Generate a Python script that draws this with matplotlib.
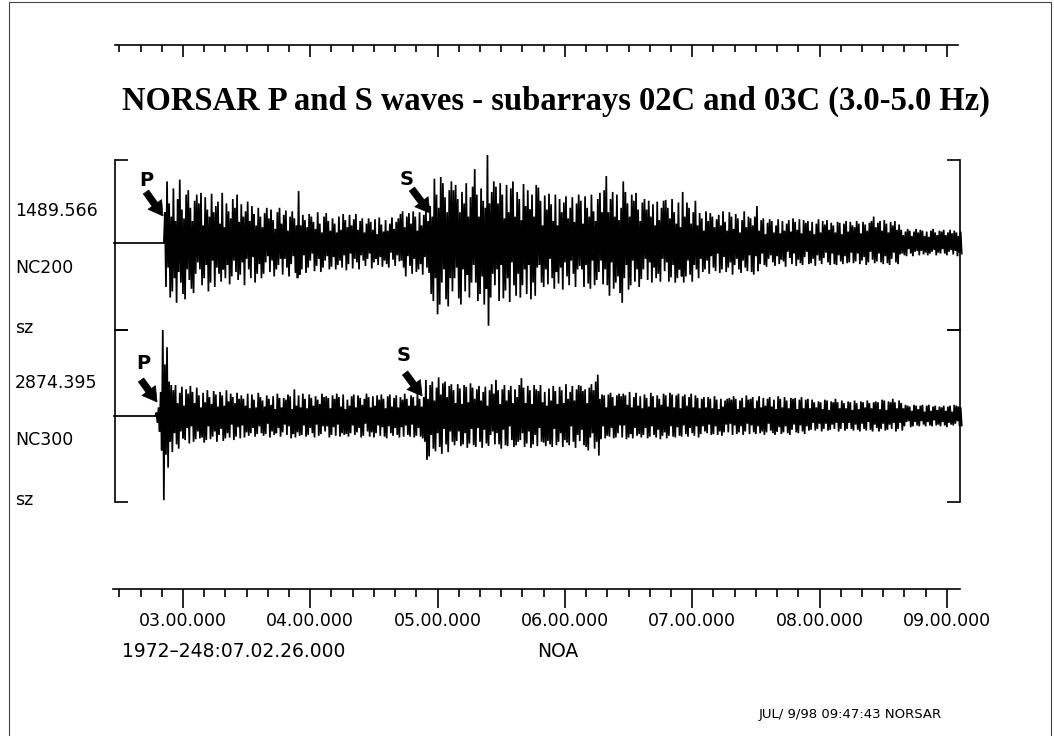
import matplotlib
matplotlib.use("Agg")
import matplotlib.pyplot as plt
import numpy as np
from matplotlib.patches import Rectangle
from matplotlib.ticker import FixedLocator, NullFormatter, FixedFormatter

# ---------------------------------------------------------------- data
TITLE = "NORSAR P and S waves - subarrays 02C and 03C (3.0-5.0 Hz)"
START_LABEL = "1972–248:07.02.26.000"
STATION = "NOA"
FOOTER = "JUL/ 9/98 09:47:43 NORSAR"

# time axis: seconds after 07.02.26.000
TICK_SECONDS = [34, 94, 154, 214, 274, 334, 394]
TICK_LABELS = ["03.00.000", "04.00.000", "05.00.000", "06.00.000",
               "07.00.000", "08.00.000", "09.00.000"]
MINOR_SECONDS = [4, 14, 24, 44, 54, 64, 74, 84, 104, 114, 124, 134, 144,
                 164, 174, 184, 194, 204, 224, 234, 244, 254, 264, 284, 294,
                 304, 314, 324, 344, 354, 364, 374, 384]

CHANNELS = ["NC200", "NC300"]
COMPONENTS = ["sz", "sz"]
MAX_AMPS = ["1489.566", "2874.395"]

P_PICKS = [24.6, 21.8]     # s after start
S_PICKS = [150.4, 146.7]

SAMPLE_START = 1.5   # s
SAMPLE_STEP = 0.5    # s

# trace amplitudes, percent of channel maximum
NC200 = [
    0, 0, 0, 0, 0, 0, 0, 0, 0, 0, 0, 0, 0, 0, 0, 0, 0, 0, 0, 0,
    0, 0, 0, 0, 0, 0, 0, 0, 0, 0, 0, 0, 0, 0, 0, 0, 0, 0, 0, 0,
    0, 0, 0, 0, 0, 0, 0, 0,
    35, -50, 70, -28, 45, -62, 30, -55, 62, -40, 25, -68, 50, -33, 72, -45,
    38, -58, 28, -64, 55, -30, 60, -42, 40, -52, 25, -57, 48, -35, 55, -22,
    45, -30, 57, -48, 20, -40, 52, -25, 38, -55, 30, -45, 56, -20, 35, -50,
    42, -28, 47, -35, 22, -44, 57, -30, 18, -40, 45, -25, 36, -47, 28, -38, 50, -20, 40, -33, 55, -42, 24, -36,
    44, -22, 30, -48, 36, -18, 47, -30, 25, -40, 42, -16, 33, -45, 20, -35, 40, -24,
    30, -40, 18, -35, 34, -22, 40, -15, 28, -33, 38, -20, 26, -38, 16, -30, 35, -25, 40, -18, 22, -36,
    32, -18, 37, -28, 14, -38, 30, -24, 36, -15, 28, -34, 20, -40, 59, -36,
    20, -30, 32, -14, 26, -34, 18, -28, 33, -20, 30, -12, 24, -32, 16, -26, 35, -18, 22, -33, 12, -28, 30, -20,
    34, -15, 25, -30, 14, -27, 28, -16, 22, -30, 12, -25, 30, -20, 15, -28, 33, -14, 26, -31,
    18, -24, 32, -12, 20, -29, 27, -18, 33, -22, 15, -30, 25, -14, 28, -20, 12, -26, 22, -18,
    28, -12, 24, -29, 15, -22, 27, -18, 10, -25, 29, -16, 21, -27, 13, -20, 26, -24, 14, -28,
    22, -11, 29, -19, 16, -26, 24, -14, 28, -21, 33, -20, 36, -28, 18, -38, 30, -15, 34, -26,
    22, -35, 36, -18, 30, -33, 14, -30, 35, -24, 20, -36, 32, -16, 38, -28, 25, -34,
    42, -58, 30, -66, 73, -40, 55, -81, 40, -70, 75, -45, 68, -30, 52, -64, 35, -72, 60, -40, 70, -55,
    60, -40, 66, -28, 50, -63, 35, -70, 58, -30, 45, -55, 68, -36, 30, -62, 52, -45, 64, -25,
    84, -45, 55, -66, 30, -58, 62, -38, 48, -70, 40, -52, 100, -94, 45, -62, 58, -35, 70, -48,
    64, -30, 45, -66, 68, -25, 55, -63, 28, -54, 66, -40, 35, -67, 62, -22, 70, -48, 30, -60,
    58, -35, 50, -62, 26, -48, 67, -30, 42, -58, 60, -25, 38, -64, 55, -45, 30, -60, 66, -28,
    63, -25, 48, -45, 20, -50, 54, -30, 38, -47, 56, -18, 44, -40, 25, -52, 55, -33, 20, -46,
    50, -28, 35, -53, 46, -22, 53, -38, 28, -48, 40, -20, 52, -35, 24, -50, 45, -30, 55, -26,
    48, -30, 22, -50, 53, -25, 40, -46, 30, -52, 55, -20, 36, -48, 25, -42, 50, -33,
    57, -20, 35, -47, 60, -30, 76, -48, 35, -60, 50, -22, 58, -52, 30, -45, 55, -38, 26, -57, 40, -68,
    70, -40, 58, -25, 45, -53, 30, -48, 55, -20, 48, -44, 57, -30, 38, -50,
    25, -41, 46, -30, 50, -18, 38, -42, 48, -22, 30, -45, 44, -28, 20, -40, 47, -35, 26, -44, 40, -18, 48, -32,
    49, -22, 40, -44, 28, -39, 50, -25, 35, -45, 22, -40, 46, -30, 18, -38,
    58, -45, 30, -38, 46, -20, 40, -36, 22, -44, 35, -25, 48, -30, 20, -40,
    34, -18, 28, -33, 14, -30, 36, -20,
    25, -35, 34, -15, 30, -28, 18, -32, 27, -12, 32, -34, 20, -30, 36, -16, 24, -33, 14, -28,
    35, -22, 30, -36, 16, -25, 33, -18, 28, -30, 12, -34, 26, -20, 36, -28, 18, -32, 30, -14,
    28, -33, 20, -36, 30, -15, 42, -32, 14, -24,
    26, -12, 28, -25, 10, -27, 23, -18, 27, -14, 25, -22, 12, -26, 20, -15, 27, -24, 11, -19,
    25, -21, 14, -27, 22, -10, 26, -17, 13, -24,
    28, -12, 24, -26, 15, -19, 27, -23, 11, -25, 26, -16, 23, -10, 25, -24, 14, -23, 24, -18,
    10, -26, 22, -14, 27, -20, 12, -24, 25, -17, 21, -11, 26, -22, 15, -25, 23, -12, 20, -24,
    12, -25, 24, -14, 23, -21, 10, -24, 22, -15, 25, -23, 13, -22, 24, -11, 20, -23, 18, -21,
    25, -12, 22, -24, 11, -20, 24, -16, 21, -25, 14, -22, 23, -10, 25, -19, 30, -23, 18, -21,
    23, -12, 25, -22, 14, -24, 26, -15, 22, -23, 12, -25, 24, -18, 20, -11, 25, -22, 15, -24, 21,
    -13, 15, -12, 9, -14, 13, -15, 16, -7, 14, -12, 8, -15, 13, -10, 16, -9, 12, -14,
    15, -9, 14, -13, 8, -11, 13, -14, 7, -12, 14, -10, 16, -8, 12, -14, 9, -11, 14, -12,
    13, -7, 15, -12, 9, -14, 12, -10, 15, -8, 11, -13, 14, -9, 12, -15, 8, -11, 13, -12,
]

NC300 = [
    0, 0, 0, 0, 0, 0, 0, 0, 0, 0, 0, 0, 0, 0, 0, 0, 0, 0, 0, 0,
    0, 0, 0, 0, 0, 0, 0, 0, 0, 0, 0, 0, 0, 0, 0, 0, 0, 0, 0, 0,
    4, -8, 10, -18, 28, -40, 100, -98, 60, -45, 80, -60, 40, -30, 36, -42,
    30, -20, 36, -33, 15, -38, 27, -18, 34, -26, 12, -28, 31, -14, 26, -32, 35, -12, 28, -30, 15, -27, 33, -18,
    24, -26, 10, -25, 27, -31, 16, -28, 30, -12, 22, -27, 14, -24, 29, -18, 25, -30, 11, -22,
    28, -15, 24, -29, 12, -26, 30, -20, 17, -25, 26, -10, 22, -28, 15, -24, 27, -13, 20, -26,
    24, -11, 20, -25, 12, -19, 26, -23, 9, -20, 25, -14, 19, -24, 10, -21, 27, -12, 22, -20,
    18, -23, 11, -21, 24, -9, 20, -25, 13, -18, 23, -22, 8, -20, 26, -14, 21, -24, 10, -19,
    21, -10, 19, -22, 25, -12, 23, -26, 8, -21, 31, -25, 12, -19, 24, -23, 10, -22, 26, -11,
    20, -24, 9, -22, 25, -14, 21, -20, 12, -25, 23, -10, 19, -23, 14, -21, 26, -12, 22, -18,
    23, -12, 21, -25, 9, -22, 24, -13, 20, -23, 26, -10, 22, -24, 11, -20, 25, -22, 8, -21,
    19, -24, 12, -20, 23, -11, 25, -22, 10, -19, 24, -14, 21, -25, 13, -23, 20, -9, 26, -18,
    22, -24, 10, -19, 23, -25, 12, -20, 24, -11, 19, -23, 25, -13, 20, -24, 9, -26, 23, -12,
    25, -20, 11, -23, 21, -14, 24, -22, 10, -25, 22, -13, 19, -24, 26, -11, 20, -22, 12, -24,
    24, -10, 22, -25, 12, -23, 26, -14, 20, -24, 11, -26, 22,
    -30, 42, -51, 20, -47, 36, -22, 40, -38, 18, -41, 33, -20, 45, -36, 25, -44, 38, -15, 40,
    -33, 22, -42, 35, -18, 37, -30,
    30, -34, 15, -29, 37, -18, 32, -35, 14, -33, 36, -20, 34, -37, 16, -32, 38, -15, 33, -34,
    20, -36, 31, -14, 35, -30, 18, -37, 28, -16, 34, -32, 12, -35, 30, -22, 37, -18, 26, -33,
    42, -20, 30, -33, 14, -38, 31, -16, 36, -34, 18, -35, 30, -12, 35, -28, 15, -36, 31, -34,
    22, -30, 36, -28, 44, -20, 33, -36, 15, -32, 35, -18, 30, -37, 14, -33, 36, -22, 31, -35,
    29, -14, 36, -30, 16, -31, 28, -35, 12, -29, 32, -33, 18, -36, 35, -15, 29, -34, 14, -30,
    34, -20, 30, -36, 15, -28, 37, -31, 20, -34, 28, -12, 35, -30, 18, -37, 31, -22, 36, -29,
    35, -16, 29, -34, 31, -36, 15, -40, 33, -25, 37, -20, 30, -38, 40, -30,
    48, -46, 20, -27, 25, -12, 24, -26, 10, -23, 25, -24, 27, -14, 22, -26, 12, -25, 24, -20, 26, -11, 23, -25,
    26, -11, 24, -27, 13, -25, 28, -21, 10, -26, 22, -14, 27, -23, 12, -21, 23, -25, 9, -22,
    25, -14, 21, -26, 11, -24, 27, -12, 23, -22, 10, -25, 24, -16, 20, -27, 13, -23, 26, -19,
    24, -26, 11, -23, 27, -12, 25, -24, 10, -25, 24, -13, 26, -23, 9, -24, 23, -11, 25, -21,
    12, -24, 22, -14, 26, -20, 10, -23, 24, -12, 21, -25,
    9, -21, 20, -12, 22, -18, 10, -20,
    22, -10, 20, -22, 9, -21, 23, -12, 19, -22, 8, -18, 20, -23, 11, -19, 18, -10, 20, -19,
    21, -9, 19, -22, 23, -11, 20, -21, 8, -19, 18, -12, 21, -22, 10, -18, 24, -9, 19, -21,
    20, -11, 22, -19, 9, -21, 18, -12, 23, -20, 10, -18, 21, -22, 12, -19, 20, -9, 22, -17,
    11, -20, 19, -22, 8, -18, 23, -13, 20, -21, 10, -19, 22, -12, 18, -20, 9, -22, 21, -16,
    20, -10, 21, -19, 8, -20, 19, -11, 22, -18, 9, -21, 19, -12, 20, -17,
    9, -16, 19, -8, 16, -17, 10, -15, 17, -9, 16, -18, 8, -15, 19, -9, 18, -17, 7, -16, 17, -10, 16, -15,
    20, -8, 16, -18, 9, -15, 18, -8, 15, -17, 9, -15, 17, -8, 16, -15, 7, -17, 18, -10,
    15, -16, 8, -18, 17, -9, 16, -15, 10, -17, 18, -7, 15, -16, 9, -18, 16, -10, 17, -14,
    16, -18, 8, -15, 19, -9, 18, -17, 7, -16, 17, -10, 16, -15, 20, -8, 16, -18, 9, -15, 18, -8, 15, -17, 9,
    -12, 13, -7, 12, -6, 11, -13, 6, -12, 13, -7, 12, -11, 8, -12,
    12, -6, 13, -10, 5, -12, 12, -7, 13, -11, 6, -12, 11, -5, 12, -11, 7, -10, 11, -12,
    10, -7, 12, -11, 6, -13, 11, -8, 12, -10, 5, -11, 13, -9, 12, -6, 11, -12, 10, -11,
]

TRACES = [NC200, NC300]

# ---------------------------------------------------------------- layout
W, H, DPI = 1054, 736, 100
X0_PX, PX_PER_S = 110.8, 2.122      # calibration of the time scale


def t_at(px):
    return (px - X0_PX) / PX_PER_S


def fx(px):
    return px / W


def fy(py):
    return 1 - py / H


PT = 72.0 / DPI   # points per pixel

fig = plt.figure(figsize=(W / DPI, H / DPI), dpi=DPI)
fig.patch.set_facecolor("white")

LEFT, RIGHT = 115, 960
PANELS = [(160, 330, 243), (330, 502, 416)]   # top, bottom, baseline (px)
FULL_PX = [88, 86]                             # px for 100 %

label_font = dict(family="DejaVu Sans", fontsize=12.5, color="black")

# label positions (px offsets from baseline)
LABEL_DY = [(-32, 25, 85.5), (-33, 24, 84)]

# arrows: (tip amplitude %, tail offset px, letter offset px)
P_ARROWS = [(30.7, (-17, -24), (-17, -35)), (16.3, (-16, -22), (-14, -38))]
S_ARROWS = [(34.0, (-18, -24), (-23, -34)), (23.3, (-17, -23), (-18, -40))]

for k, (top, bot, base) in enumerate(PANELS):
    ax = fig.add_axes([fx(LEFT), fy(bot), fx(RIGHT) - fx(LEFT), (bot - top) / H])
    ax.set_xlim(t_at(LEFT), t_at(RIGHT))
    full = FULL_PX[k]
    ylo = -(bot - base) / full * 100
    yhi = (base - top) / full * 100
    ax.set_ylim(ylo, yhi)
    vals = np.array(TRACES[k], dtype=float)
    t = SAMPLE_START + SAMPLE_STEP * np.arange(len(vals))
    ax.plot(t, vals, color="black", lw=1.25, clip_on=False, solid_joinstyle="miter")
    for side in ("top", "bottom"):
        ax.spines[side].set_visible(False)
    for side in ("left", "right"):
        ax.spines[side].set_linewidth(1.2)
    ax.set_xticks([])
    ax.set_yticks([ylo, yhi])
    ax.tick_params(axis="y", direction="in", length=13 * PT, width=1.2,
                   left=True, right=True, labelleft=False, labelright=False)
    ax.patch.set_alpha(0)

    dv, dn, dc = LABEL_DY[k]
    fig.text(fx(15), fy(base + dv), MAX_AMPS[k], ha="left", va="center", **label_font)
    fig.text(fx(15), fy(base + dn), CHANNELS[k], ha="left", va="center", **label_font)
    fig.text(fx(15), fy(base + dc), COMPONENTS[k], ha="left", va="center", **label_font)

    for pick, (amp, tail, letter), name in ((P_PICKS[k], P_ARROWS[k], "P"),
                                           (S_PICKS[k], S_ARROWS[k], "S")):
        ax.annotate("", xy=(pick, amp), xytext=(tail[0] * PT, -tail[1] * PT),
                    textcoords="offset points", annotation_clip=False,
                    arrowprops=dict(arrowstyle="simple,head_width=1.0,head_length=0.85,tail_width=0.4",
                                    mutation_scale=12, fc="black", ec="black", lw=0.5,
                                    shrinkA=0, shrinkB=0))
        ax.annotate(name, xy=(pick, amp), xytext=(letter[0] * PT, -letter[1] * PT),
                    textcoords="offset points", ha="center", va="center",
                    family="DejaVu Sans", fontweight="bold", fontsize=14,
                    annotation_clip=False)


def ruler(y_px, x_left, x_right, major_len, minor_len, labels):
    ax = fig.add_axes([fx(x_left), fy(y_px), fx(x_right) - fx(x_left), 1e-4])
    ax.set_xlim(t_at(x_left), t_at(x_right))
    for side in ("top", "left", "right"):
        ax.spines[side].set_visible(False)
    ax.spines["bottom"].set_linewidth(1.2)
    ax.set_yticks([])
    ax.xaxis.set_major_locator(FixedLocator(TICK_SECONDS))
    ax.xaxis.set_minor_locator(FixedLocator(MINOR_SECONDS))
    if labels:
        ax.xaxis.set_major_formatter(FixedFormatter(TICK_LABELS))
    else:
        ax.xaxis.set_major_formatter(NullFormatter())
    ax.tick_params(axis="x", which="major", direction="out", length=major_len * PT,
                   width=1.2, pad=4 * PT, labelsize=12.5)
    ax.tick_params(axis="x", which="minor", direction="out", length=minor_len * PT,
                   width=1.2)
    ax.patch.set_alpha(0)
    return ax


ruler(45, 115, 958, 12, 7, False)
ruler(589, 113, 960, 19, 8, True)

fig.text(fx(556), fy(101), TITLE, ha="center", va="center",
         family="Liberation Serif", fontweight="bold", fontsize=23.5)

fig.text(fx(122), fy(651.5), START_LABEL, ha="left", va="center",
         family="DejaVu Sans", fontsize=13.5)
fig.text(fx(537), fy(651.5), STATION, ha="left", va="center",
         family="DejaVu Sans", fontsize=13.5)
fig.text(fx(942), fy(714.5), FOOTER, ha="right", va="center",
         family="DejaVu Sans", fontsize=9.5)

# outer page frame
fig.add_artist(Rectangle((fx(9), fy(740)), fx(1051) - fx(9), (740 - 2) / H,
                         transform=fig.transFigure, fill=False, ec="#444444", lw=0.8))

fig.savefig("out.png", dpi=DPI, facecolor="white")
